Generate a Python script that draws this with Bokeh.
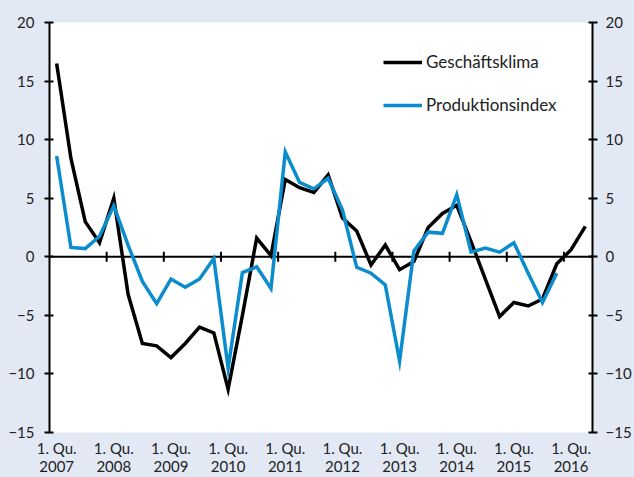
import math
from bokeh.plotting import figure
from bokeh.models import (LinearAxis, FixedTicker, Span, Legend, LegendItem,
                          Range1d, GlobalInlineStyleSheet)
from bokeh.embed import file_html
from bokeh.resources import INLINE

# ---------------- data ----------------
years = list(range(2007, 2017))
quarters = [f"{y}Q{q}" for y in years for q in range(1, 5)][:38]   # 2007Q1 .. 2016Q2

geschaeftsklima = [16.5, 8.4, 3.0, 1.2, 5.0, -3.2, -7.4, -7.6,
                   -8.6, -7.4, -6.0, -6.5, -11.3, -5.0, 1.6, 0.1,
                   6.6, 5.9, 5.5, 7.0, 3.3, 2.2, -0.7, 1.0,
                   -1.1, -0.4, 2.5, 3.7, 4.4, 1.3, -1.9, -5.1,
                   -3.9, -4.2, -3.6, -0.6, 0.6, 2.6]
produktionsindex = [8.6, 0.8, 0.7, 1.75, 4.35, 1.0, -2.1, -4.0,
                    -1.9, -2.6, -1.9, -0.15, -9.5, -1.35, -0.85, -2.7,
                    8.95, 6.35, 5.8, 6.7, 4.0, -0.9, -1.4, -2.4,
                    -8.9, 0.5, 2.1, 2.0, 5.3, 0.4, 0.75, 0.4,
                    1.2, -1.4, -3.9, -1.4]
y_ticks = [-15, -10, -5, 0, 5, 10, 15, 20]
series_names = ["Geschäftsklima", "Produktionsindex"]

# ---------------- style ----------------
BG = "#e3e9f4"
BLUE = "#0a8ccd"
FONT = "Lato"
TXT = "#222222"

x_gk = [i + 0.5 for i in range(len(geschaeftsklima))]
x_pi = [i + 0.5 for i in range(len(produktionsindex))]

p = figure(width=634, height=477,
           x_range=Range1d(0, len(quarters)), y_range=Range1d(-15, 20),
           output_backend="svg", toolbar_location=None,
           min_border_left=49, min_border_right=37,
           min_border_top=22, min_border_bottom=43,
           background_fill_color="white", border_fill_color=BG,
           outline_line_color=None)
p.grid.visible = False

p.stylesheets = [GlobalInlineStyleSheet(
    css=f"html, body {{ margin: 0; padding: 0; background: {BG}; overflow: hidden; }}")]

# zero line + year-boundary ticks
p.add_layout(Span(location=0, dimension="width", line_color="black",
                  line_width=2, level="underlay"))
boundaries = [i for i, q in enumerate(quarters) if q.endswith("Q1") and i > 0]
p.scatter(x=boundaries, y=[0] * len(boundaries), marker="dash", size=10,
          angle=math.pi / 2, line_color="black", line_width=2)

r1 = p.line(x_gk, geschaeftsklima, line_color="black", line_width=3.5,
            line_join="miter")
r2 = p.line(x_pi, produktionsindex, line_color=BLUE, line_width=3.5,
            line_join="miter")

# x axis: labels only
q1_pos = [i + 0.5 for i, q in enumerate(quarters) if q.endswith("Q1")]
xa = p.xaxis[0]
xa.ticker = FixedTicker(ticks=q1_pos)
xa.major_label_overrides = {i + 0.5: f"1. Qu.\n{q[:4]}"
                            for i, q in enumerate(quarters) if q.endswith("Q1")}
xa.axis_line_color = None
xa.major_tick_line_color = None
xa.minor_tick_line_color = None
xa.major_tick_in = 0
xa.major_tick_out = 0
xa.major_label_standoff = 6
xa.major_label_text_font = FONT
xa.major_label_text_font_size = "15px"
xa.major_label_text_color = TXT
xa.major_label_text_line_height = 1.0

# y axes
ya = p.yaxis[0]
ra = LinearAxis()
p.add_layout(ra, "right")
for ax, standoff in ((ya, 10), (ra, 8)):
    ax.ticker = FixedTicker(ticks=y_ticks)
    ax.axis_line_color = "black"
    ax.axis_line_width = 2
    ax.major_tick_line_color = "black"
    ax.major_tick_line_width = 2
    ax.major_tick_in = 4
    ax.major_tick_out = 5
    ax.minor_tick_line_color = None
    ax.major_label_standoff = standoff
    ax.major_label_text_font = FONT
    ax.major_label_text_font_size = "15px"
    ax.major_label_text_color = TXT

legend = Legend(items=[LegendItem(label=series_names[0], renderers=[r1]),
                       LegendItem(label=series_names[1], renderers=[r2])],
                location=(334, 317), orientation="vertical",
                background_fill_alpha=0, border_line_color=None,
                padding=0, margin=0, spacing=22,
                glyph_width=39, glyph_height=20, label_height=20,
                label_standoff=4, label_text_font=FONT,
                label_text_font_size="17px", label_text_color=TXT)
p.add_layout(legend)

open("out.html", "w").write(file_html(p, INLINE))
